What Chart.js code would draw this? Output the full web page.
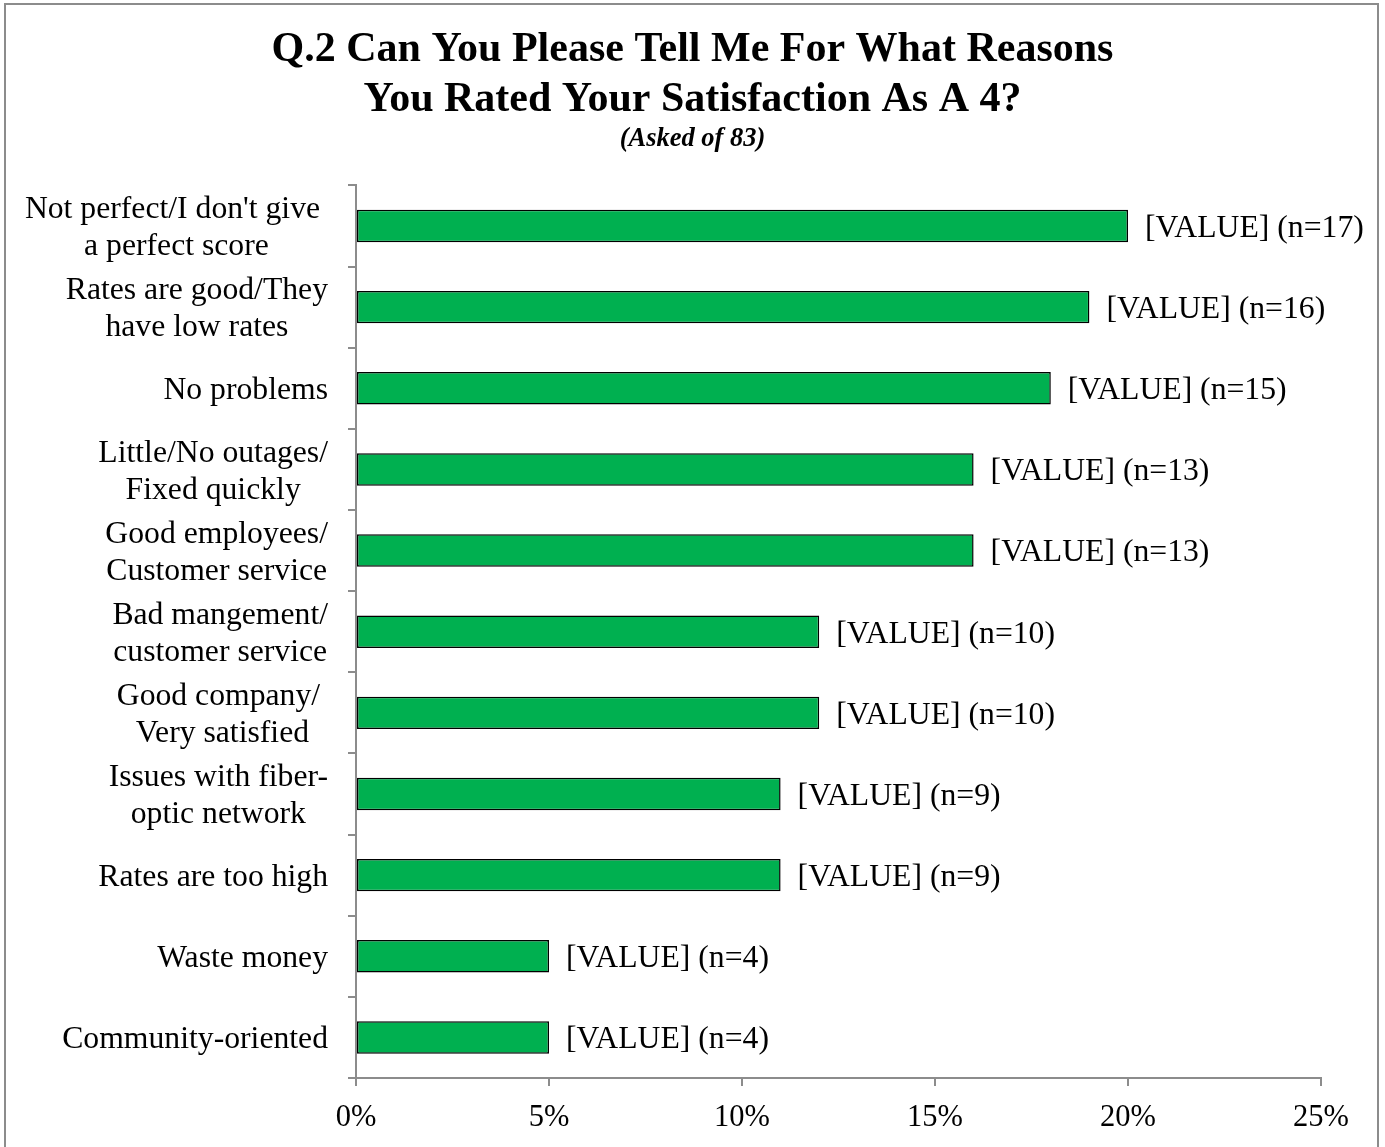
<!DOCTYPE html>
<html>
<head>
<meta charset="utf-8">
<title>Q.2 Reasons for rating 4</title>
<script src="https://cdn.jsdelivr.net/npm/chart.js@4.4.1/dist/chart.umd.min.js"></script>
<style>
    body { margin: 0; background: #fff; }
    canvas { display: block; }
</style>
</head>
<body>
<canvas id="reasonChart" width="1385" height="1147"></canvas>
<script>
// --- DATA ---
const reasons = [
    ["Not perfect/I don't give ", "a perfect score"],
    ["Rates are good/They", "have low rates"],
    ["No problems"],
    ["Little/No outages/", "Fixed quickly"],
    ["Good employees/", "Customer service"],
    ["Bad mangement/", "customer service"],
    ["Good company/ ", "Very satisfied"],
    ["Issues with fiber-", "optic network"],
    ["Rates are too high"],
    ["Waste money"],
    ["Community-oriented"]
];
const percents = [20, 19, 18, 16, 16, 12, 12, 11, 11, 5, 5];
const counts = [17, 16, 15, 13, 13, 10, 10, 9, 9, 4, 4];
const xTicks = [0, 5, 10, 15, 20, 25];

const SERIF = "'Liberation Serif', 'Times New Roman', serif";
const GRAY = '#8c8c8c';
const TEXT_SIZE = 31.7;

// outer frame around the whole chart
const framePlugin = {
    id: 'frame',
    beforeDraw(chart) {
        const ctx = chart.ctx;
        ctx.save();
        ctx.fillStyle = '#fff';
        ctx.fillRect(0, 0, chart.width, chart.height);
        ctx.strokeStyle = GRAY;
        ctx.lineWidth = 2;
        ctx.strokeRect(5, 4, 1373, chart.height + 10);
        ctx.restore();
    }
};

// category names: lines centred on each other, block right-aligned next to the axis
const categoryLabels = {
    id: 'categoryLabels',
    afterDraw(chart) {
        const ctx = chart.ctx;
        const yScale = chart.scales.y;
        const right = chart.chartArea.left - 28;
        const lineH = 37;
        ctx.save();
        ctx.font = `${TEXT_SIZE}px ${SERIF}`;
        ctx.fillStyle = '#000';
        ctx.textAlign = 'center';
        ctx.textBaseline = 'middle';
        reasons.forEach((lines, i) => {
            const y = yScale.getPixelForTick(i) + 2.5;
            const maxW = Math.max(...lines.map(l => ctx.measureText(l).width));
            const cx = right - maxW / 2;
            const top = y - (lines.length - 1) * lineH / 2;
            lines.forEach((l, j) => ctx.fillText(l, cx, top + j * lineH));
        });
        ctx.restore();
    }
};

// "[VALUE] (n=..)" text after each bar end
const valueLabels = {
    id: 'valueLabels',
    afterDatasetsDraw(chart) {
        const ctx = chart.ctx;
        const meta = chart.getDatasetMeta(0);
        ctx.save();
        ctx.font = `${TEXT_SIZE}px ${SERIF}`;
        ctx.fillStyle = '#000';
        ctx.textAlign = 'left';
        ctx.textBaseline = 'middle';
        meta.data.forEach((bar, i) => {
            ctx.fillText(`[VALUE] (n=${counts[i]})`, bar.x + 17, bar.y + 2.5);
        });
        ctx.restore();
    }
};

document.addEventListener("DOMContentLoaded", () => {
    const ctx = document.getElementById('reasonChart');

    new Chart(ctx, {
        type: 'bar',
        data: {
            labels: reasons,
            datasets: [{
                data: percents,
                backgroundColor: '#00B050',
                borderColor: '#000',
                borderWidth: 1.5,
                borderSkipped: false,
                categoryPercentage: 1,
                barPercentage: 0.4
            }]
        },
        options: {
            indexAxis: 'y',
            responsive: false,
            animation: false,
            layout: { padding: { left: 64, right: 64, top: 0, bottom: 0 } },
            scales: {
                x: {
                    min: 0,
                    max: 25,
                    afterBuildTicks: (s) => { s.ticks = xTicks.map(v => ({ value: v })); },
                    afterFit: (s) => { s.height = 69; },
                    ticks: {
                        callback: (v) => v + '%',
                        color: '#000',
                        padding: 14,
                        font: { family: SERIF, size: 30.5 }
                    },
                    grid: { drawOnChartArea: false, drawTicks: true, tickLength: 8, color: GRAY, lineWidth: 2 },
                    border: { color: GRAY, width: 2 }
                },
                y: {
                    afterFit: (s) => { s.width = 292; },
                    ticks: { display: false },
                    grid: { drawOnChartArea: false, drawTicks: true, tickLength: 8, offset: true, color: GRAY, lineWidth: 2 },
                    border: { color: GRAY, width: 2 }
                }
            },
            plugins: {
                legend: { display: false },
                tooltip: { enabled: false },
                title: {
                    display: true,
                    text: ['Q.2 Can You Please Tell Me For What Reasons', 'You Rated Your Satisfaction As A 4?'],
                    color: '#000',
                    font: { family: SERIF, size: 42, weight: 'bold', lineHeight: 1.17 },
                    padding: { top: 26, bottom: 0 }
                },
                subtitle: {
                    display: true,
                    text: '(Asked of 83)',
                    color: '#000',
                    font: { family: SERIF, size: 26.5, weight: 'bold', style: 'italic', lineHeight: 1.1 },
                    padding: { top: 0, bottom: 32 }
                }
            }
        },
        plugins: [framePlugin, categoryLabels, valueLabels]
    });
});
</script>
</body>
</html>
